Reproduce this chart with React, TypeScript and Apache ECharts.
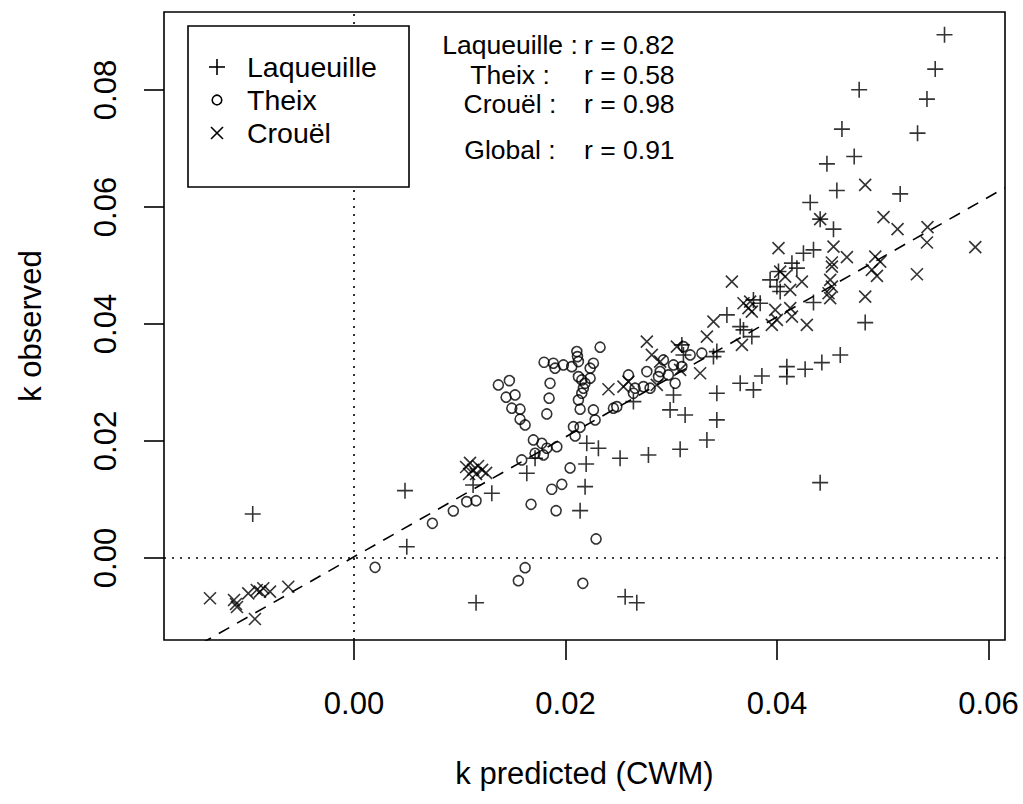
import React, { useEffect, useRef } from "react";
import * as echarts from "echarts";

// ---- data ----
const laqueuille: [number, number][] = [
  [-0.00958, 0.00752], [0.00482, 0.01151], [0.00499, 0.00193], [0.01154, -0.00764],
  [0.01303, 0.01106], [0.01126, 0.01248], [0.01634, 0.01448], [0.01712, 0.01705],
  [0.02195, 0.01607], [0.02185, 0.01219], [0.02138, 0.00809], [0.02201, 0.01961],
  [0.02311, 0.01876], [0.02516, 0.01705], [0.02784, 0.01761], [0.02564, -0.00662],
  [0.02674, -0.00764], [0.02642, 0.02673], [0.02989, 0.02531], [0.03131, 0.02445],
  [0.03021, 0.02787], [0.03084, 0.01859], [0.03337, 0.02018], [0.03431, 0.0236],
  [0.03431, 0.02816], [0.03652, 0.02987], [0.03777, 0.02873], [0.03857, 0.03112],
  [0.04093, 0.03271], [0.04093, 0.031], [0.04266, 0.03227], [0.04424, 0.0334],
  [0.04598, 0.03471], [0.04408, 0.01288], [0.03431, 0.03528], [0.03399, 0.03442],
  [0.031, 0.03642], [0.03115, 0.03471], [0.03762, 0.03784], [0.03526, 0.04155],
  [0.03652, 0.03955], [0.03683, 0.03899], [0.03841, 0.04355], [0.03777, 0.04412],
  [0.03935, 0.04754], [0.04014, 0.04896], [0.03999, 0.04639], [0.0403, 0.04554],
  [0.04141, 0.0504], [0.04188, 0.04954], [0.0425, 0.0521], [0.04345, 0.05267],
  [0.04345, 0.04366], [0.04534, 0.05621], [0.04408, 0.05792], [0.04314, 0.06076],
  [0.04566, 0.06281], [0.04472, 0.06737], [0.0473, 0.06862], [0.04614, 0.07331],
  [0.04777, 0.08003], [0.05165, 0.06224], [0.05329, 0.07262], [0.05418, 0.07844],
  [0.05496, 0.08357], [0.05584, 0.08943], [0.04834, 0.04024],
];

const theix: [number, number][] = [
  [0.00199, -0.00159], [0.00741, 0.00593], [0.00939, 0.00804], [0.01066, 0.00963],
  [0.01154, 0.0098], [0.01618, -0.00166], [0.01554, -0.00388], [0.02164, -0.00433],
  [0.02289, 0.00325], [0.01674, 0.00918], [0.01911, 0.00809], [0.0187, 0.01175],
  [0.01965, 0.0126], [0.02043, 0.01539], [0.01586, 0.01676], [0.01712, 0.0179],
  [0.01791, 0.01761], [0.01696, 0.02018], [0.01776, 0.01961], [0.01823, 0.01876],
  [0.01918, 0.01903], [0.02075, 0.02245], [0.02138, 0.02235], [0.02091, 0.02086],
  [0.01823, 0.02462], [0.01845, 0.02731], [0.01854, 0.02987], [0.01365, 0.02958],
  [0.01469, 0.03032], [0.01438, 0.02748], [0.01523, 0.02787], [0.01492, 0.0256],
  [0.0157, 0.02543], [0.0157, 0.02372], [0.01618, 0.02274], [0.01797, 0.03346],
  [0.01885, 0.03329], [0.01901, 0.03244], [0.0198, 0.033], [0.02059, 0.03271],
  [0.02107, 0.03528], [0.02113, 0.03442], [0.02122, 0.03357], [0.02327, 0.03603],
  [0.02264, 0.03329], [0.02233, 0.03244], [0.02122, 0.031], [0.02154, 0.03044],
  [0.02185, 0.02987], [0.02233, 0.03073], [0.02169, 0.02902], [0.02154, 0.02816],
  [0.02122, 0.02702], [0.02138, 0.02543], [0.02264, 0.02531], [0.0228, 0.0236],
  [0.02453, 0.0256], [0.02485, 0.02587], [0.02595, 0.03129], [0.02658, 0.02902],
  [0.02737, 0.02929], [0.028, 0.02902], [0.02769, 0.03186], [0.02879, 0.031],
  [0.02895, 0.03186], [0.02973, 0.03129], [0.02642, 0.02816], [0.03037, 0.02987],
  [0.02926, 0.03386], [0.03021, 0.033], [0.031, 0.03271], [0.03115, 0.03613],
  [0.03179, 0.03471], [0.03289, 0.035],
];

const crouel: [number, number][] = [
  [-0.01362, -0.00689], [-0.01135, -0.00718], [-0.01116, -0.00787], [-0.01107, -0.00838],
  [-0.01, -0.00604], [-0.0092, -0.00547], [-0.00889, -0.00576], [-0.00858, -0.00518],
  [-0.00795, -0.00576], [-0.00622, -0.00491], [-0.00937, -0.01043],
  [0.0106, 0.01556], [0.01097, 0.01625], [0.01126, 0.01505], [0.01173, 0.01573],
  [0.01211, 0.01505], [0.01249, 0.01454], [0.01088, 0.01436], [0.01154, 0.01436],
  [0.02769, 0.03699], [0.02816, 0.03471], [0.02895, 0.03357], [0.02406, 0.02885],
  [0.02595, 0.03015], [0.02548, 0.02929], [0.02863, 0.02958], [0.03053, 0.03613],
  [0.03273, 0.03158], [0.03084, 0.03215], [0.03337, 0.03784], [0.03399, 0.04041],
  [0.03668, 0.03642], [0.03573, 0.04725], [0.03683, 0.04355], [0.03746, 0.04383],
  [0.03762, 0.04212], [0.0373, 0.0427], [0.03983, 0.04241], [0.03999, 0.0407],
  [0.04125, 0.0427], [0.04141, 0.04126], [0.03951, 0.03984], [0.04282, 0.03984],
  [0.04014, 0.05296], [0.0403, 0.04896], [0.04077, 0.0481], [0.04125, 0.04583],
  [0.04235, 0.04725], [0.04534, 0.05323], [0.04661, 0.05142], [0.04519, 0.04981],
  [0.04519, 0.0505], [0.04503, 0.04754], [0.04519, 0.04639], [0.04487, 0.04526],
  [0.04503, 0.04441], [0.04834, 0.06378], [0.05007, 0.05826], [0.0514, 0.05621],
  [0.05423, 0.05655], [0.05418, 0.05392], [0.05875, 0.05313], [0.04929, 0.05152],
  [0.04976, 0.05067], [0.04897, 0.04925], [0.04945, 0.04822], [0.05323, 0.04851],
  [0.04834, 0.04468], [0.04408, 0.05792],
];

const xTicks = [0, 0.02, 0.04, 0.06];
const yTicks = [0, 0.02, 0.04, 0.06, 0.08];
const xRange = [-0.01797, 0.06156];
const yRange = [-0.01402, 0.09333];
const fitIntercept = 0.0002;
const fitSlope = 1.025;

const legendNames = ["Laqueuille", "Theix", "Crouël"];
const statLabels = ["Laqueuille :", "Theix :", "Crouël :", "Global :"];
const statValues = ["r = 0.82", "r = 0.58", "r = 0.98", "r = 0.91"];
const xTitle = "k predicted (CWM)";
const yTitle = "k observed";

const FONT = '"Liberation Sans", Arial, Helvetica, sans-serif';
const PLUS = "path://M0,-1L0,1M-1,0L1,0";
const CROSS = "path://M-1,-1L1,1M-1,1L1,-1";
const LW = 1.6;

export default function App() {
  const ref = useRef<HTMLDivElement>(null);

  useEffect(() => {
    if (!ref.current) return;
    const chart = echarts.init(ref.current, undefined, { renderer: "svg" });

    const fitData = xRange.map((x) => [x, fitIntercept + fitSlope * x]);
    const markerStyle = { color: "transparent", borderColor: "#000", borderWidth: LW };

    const legendY = [67, 100, 133];
    const statY = [45, 75, 104, 150];

    const graphic: any[] = [
      {
        type: "rect",
        z: 100,
        shape: { x: 188, y: 26, width: 221, height: 161 },
        style: { fill: "#fff", stroke: "#000", lineWidth: LW },
      },
      // legend symbols
      { type: "line", z: 101, shape: { x1: 209, y1: legendY[0], x2: 225, y2: legendY[0] }, style: { stroke: "#000", lineWidth: LW } },
      { type: "line", z: 101, shape: { x1: 217, y1: legendY[0] - 8, x2: 217, y2: legendY[0] + 8 }, style: { stroke: "#000", lineWidth: LW } },
      { type: "circle", z: 101, shape: { cx: 217, cy: legendY[1], r: 4.8 }, style: { fill: "none", stroke: "#000", lineWidth: LW } },
      { type: "line", z: 101, shape: { x1: 211, y1: legendY[2] - 6, x2: 223, y2: legendY[2] + 6 }, style: { stroke: "#000", lineWidth: LW } },
      { type: "line", z: 101, shape: { x1: 211, y1: legendY[2] + 6, x2: 223, y2: legendY[2] - 6 }, style: { stroke: "#000", lineWidth: LW } },
      ...legendNames.map((name, i) => ({
        type: "text",
        z: 101,
        x: 247,
        y: legendY[i],
        style: {
          text: name,
          fill: "#000",
          fontSize: 28.5,
          lineHeight: 30,
          fontFamily: FONT,
          align: "left",
          verticalAlign: "middle",
        },
      })),
      ...statLabels.map((t, i) => ({
        type: "text",
        z: 101,
        x: 510,
        y: statY[i],
        style: {
          text: t,
          fill: "#000",
          fontSize: 26.5,
          lineHeight: 28,
          fontFamily: FONT,
          align: "center",
          verticalAlign: "middle",
        },
      })),
      ...statValues.map((t, i) => ({
        type: "text",
        z: 101,
        x: 584,
        y: statY[i],
        style: {
          text: t,
          fill: "#000",
          fontSize: 26.5,
          lineHeight: 28,
          fontFamily: FONT,
          align: "left",
          verticalAlign: "middle",
        },
      })),
    ];

    const axisCommon = {
      type: "value" as const,
      axisLine: { show: false, onZero: false },
      splitLine: { show: false },
      nameLocation: "middle" as const,
      nameTextStyle: { fontSize: 31, fontFamily: FONT, color: "#000", lineHeight: 34 },
    };

    chart.setOption({
      animation: false,
      backgroundColor: "#fff",
      textStyle: { fontFamily: FONT },
      grid: {
        left: 164,
        right: 18,
        top: 12,
        bottom: 164,
        show: true,
        borderColor: "#000",
        borderWidth: LW,
        backgroundColor: "transparent",
      },
      xAxis: {
        ...axisCommon,
        min: xRange[0],
        max: xRange[1],
        name: xTitle,
        nameGap: 116,
        axisTick: { show: true, inside: false, length: 20, customValues: xTicks, lineStyle: { color: "#000", width: LW } },
        axisLabel: {
          customValues: xTicks,
          formatter: (v: number) => v.toFixed(2),
          fontSize: 31,
          lineHeight: 31,
          fontFamily: FONT,
          color: "#000",
          margin: 48,
        },
      },
      yAxis: {
        ...axisCommon,
        min: yRange[0],
        max: yRange[1],
        name: yTitle,
        nameGap: 117,
        axisTick: { show: true, inside: false, length: 20, customValues: yTicks, lineStyle: { color: "#000", width: LW } },
        axisLabel: {
          customValues: yTicks,
          formatter: (v: number) => v.toFixed(2),
          fontSize: 31,
          lineHeight: 31,
          fontFamily: FONT,
          color: "#000",
          margin: 43,
          rotate: 90,
        },
      },
      series: [
        {
          name: "fit",
          type: "line",
          data: fitData,
          showSymbol: false,
          silent: true,
          lineStyle: { color: "#000", width: LW, type: [12, 9] },
          markLine: {
            silent: true,
            symbol: ["none", "none"],
            label: { show: false },
            lineStyle: { color: "#000", width: LW, type: [2, 6] },
            data: [{ xAxis: 0 }, { yAxis: 0 }],
          },
          z: 1,
        },
        {
          name: legendNames[0],
          type: "scatter",
          data: laqueuille,
          symbol: PLUS,
          symbolSize: 16,
          itemStyle: markerStyle,
          z: 3,
        },
        {
          name: legendNames[1],
          type: "scatter",
          data: theix,
          symbol: "circle",
          symbolSize: 10,
          itemStyle: markerStyle,
          z: 3,
        },
        {
          name: legendNames[2],
          type: "scatter",
          data: crouel,
          symbol: CROSS,
          symbolSize: 12,
          itemStyle: markerStyle,
          z: 3,
        },
      ],
      graphic,
    });

    return () => chart.dispose();
  }, []);

  return (
    <div
      ref={ref}
      style={{ position: "absolute", left: 0, top: 0, width: 1023, height: 804, background: "#fff" }}
    />
  );
}
